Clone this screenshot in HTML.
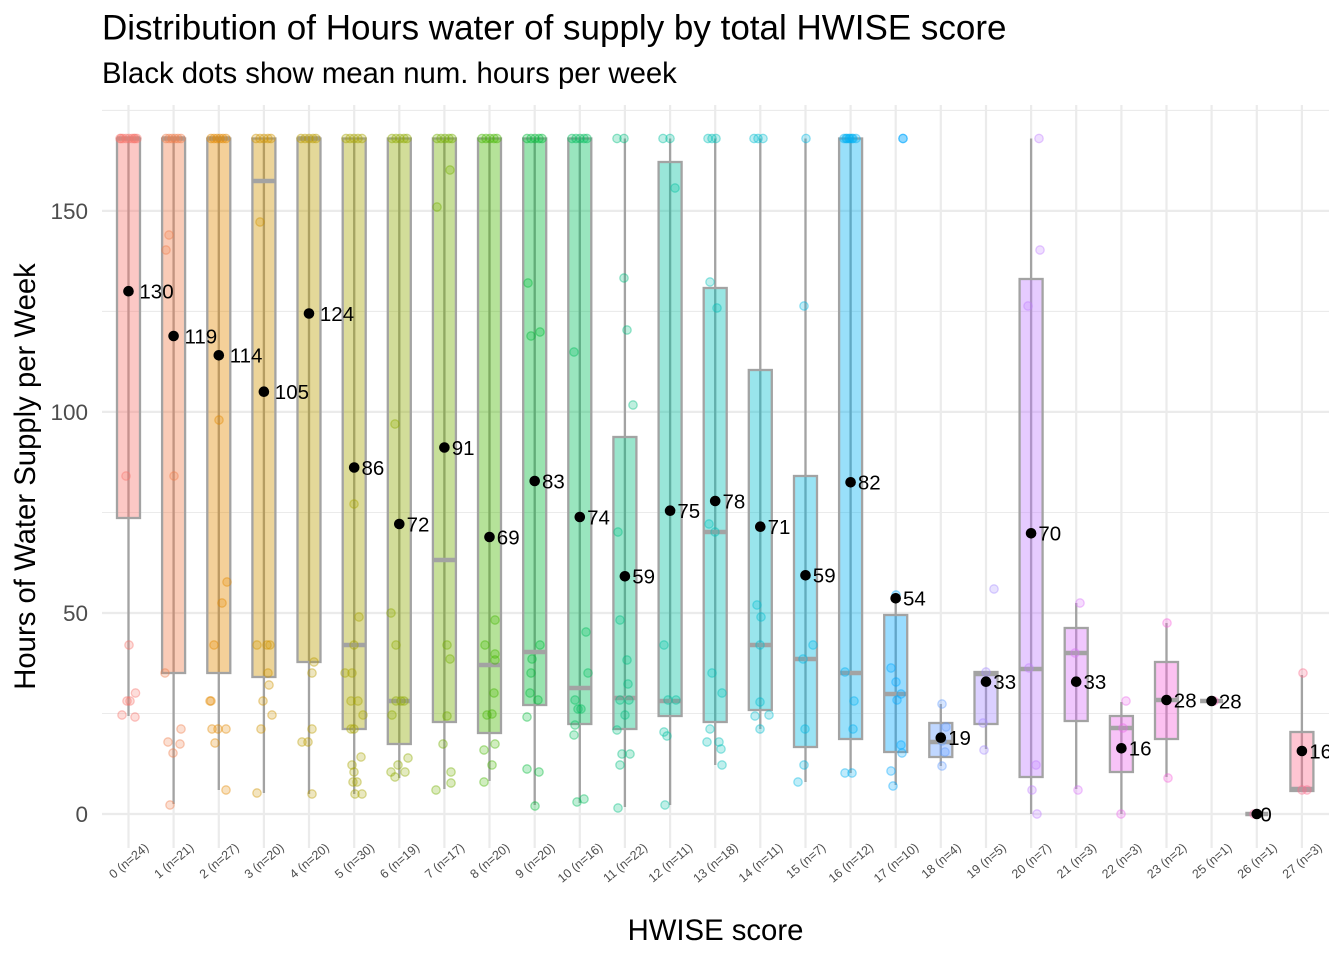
<!DOCTYPE html>
<html><head><meta charset="utf-8"><style>
html,body{margin:0;padding:0;background:#fff;}
svg{display:block;}
text{font-family:"Liberation Sans",Arial,sans-serif;}
circle.p{r:4.2px;}
</style></head><body>
<svg width="1344" height="960" viewBox="0 0 1344 960" xmlns="http://www.w3.org/2000/svg">
<defs><clipPath id="pc"><rect x="102" y="105" width="1227" height="743"/></clipPath></defs>
<rect width="1344" height="960" fill="#fff"/>
<text x="102" y="39.5" font-size="35" fill="#000">Distribution of Hours water of supply by total HWISE score</text>
<text x="102" y="83" font-size="29.3" fill="#000">Black dots show mean num. hours per week</text>
<g stroke="#EBEBEB" stroke-width="1.1">
<line x1="102" x2="1329" y1="713.5" y2="713.5"/><line x1="102" x2="1329" y1="512.5" y2="512.5"/><line x1="102" x2="1329" y1="311.4" y2="311.4"/><line x1="102" x2="1329" y1="110.4" y2="110.4"/>
</g>
<g stroke="#EBEBEB" stroke-width="2.2">
<line x1="102" x2="1329" y1="814" y2="814"/><line x1="102" x2="1329" y1="613" y2="613"/><line x1="102" x2="1329" y1="411.9" y2="411.9"/><line x1="102" x2="1329" y1="210.9" y2="210.9"/>
<line x1="128.5" x2="128.5" y1="105" y2="848"/><line x1="173.6" x2="173.6" y1="105" y2="848"/><line x1="218.8" x2="218.8" y1="105" y2="848"/><line x1="263.9" x2="263.9" y1="105" y2="848"/><line x1="309" x2="309" y1="105" y2="848"/><line x1="354.2" x2="354.2" y1="105" y2="848"/><line x1="399.3" x2="399.3" y1="105" y2="848"/><line x1="444.4" x2="444.4" y1="105" y2="848"/><line x1="489.5" x2="489.5" y1="105" y2="848"/><line x1="534.7" x2="534.7" y1="105" y2="848"/><line x1="579.8" x2="579.8" y1="105" y2="848"/><line x1="624.9" x2="624.9" y1="105" y2="848"/><line x1="670.1" x2="670.1" y1="105" y2="848"/><line x1="715.2" x2="715.2" y1="105" y2="848"/><line x1="760.3" x2="760.3" y1="105" y2="848"/><line x1="805.5" x2="805.5" y1="105" y2="848"/><line x1="850.6" x2="850.6" y1="105" y2="848"/><line x1="895.7" x2="895.7" y1="105" y2="848"/><line x1="940.8" x2="940.8" y1="105" y2="848"/><line x1="986" x2="986" y1="105" y2="848"/><line x1="1031.1" x2="1031.1" y1="105" y2="848"/><line x1="1076.2" x2="1076.2" y1="105" y2="848"/><line x1="1121.4" x2="1121.4" y1="105" y2="848"/><line x1="1166.5" x2="1166.5" y1="105" y2="848"/><line x1="1211.6" x2="1211.6" y1="105" y2="848"/><line x1="1256.8" x2="1256.8" y1="105" y2="848"/><line x1="1301.9" x2="1301.9" y1="105" y2="848"/>
</g>
<g clip-path="url(#pc)">
<g stroke="#A3A3A3" stroke-width="2.3">
<line x1="128.5" x2="128.5" y1="138.5" y2="716"/>
<line x1="173.6" x2="173.6" y1="138.5" y2="804"/>
<line x1="218.8" x2="218.8" y1="138.5" y2="790"/>
<line x1="263.9" x2="263.9" y1="138.5" y2="793"/>
<line x1="309" x2="309" y1="138.5" y2="794"/>
<line x1="354.2" x2="354.2" y1="138.5" y2="794"/>
<line x1="399.3" x2="399.3" y1="138.5" y2="778"/>
<line x1="444.4" x2="444.4" y1="138.5" y2="789"/>
<line x1="489.5" x2="489.5" y1="138.5" y2="781"/>
<line x1="534.7" x2="534.7" y1="138.5" y2="805"/>
<line x1="579.8" x2="579.8" y1="138.5" y2="803"/>
<line x1="624.9" x2="624.9" y1="138.5" y2="807"/>
<line x1="670.1" x2="670.1" y1="138.5" y2="805"/>
<line x1="715.2" x2="715.2" y1="138.5" y2="765"/>
<line x1="760.3" x2="760.3" y1="138.5" y2="729"/>
<line x1="805.5" x2="805.5" y1="138.5" y2="782"/>
<line x1="850.6" x2="850.6" y1="138.5" y2="773"/>
<line x1="895.7" x2="895.7" y1="600" y2="785"/>
<line x1="940.8" x2="940.8" y1="704" y2="766"/>
<line x1="986" x2="986" y1="672" y2="749"/>
<line x1="1031.1" x2="1031.1" y1="138.5" y2="814"/>
<line x1="1076.2" x2="1076.2" y1="603" y2="789"/>
<line x1="1121.4" x2="1121.4" y1="702" y2="814"/>
<line x1="1166.5" x2="1166.5" y1="623" y2="777"/>
<line x1="1301.9" x2="1301.9" y1="675" y2="791"/>
</g>
<g stroke="#A3A3A3" stroke-width="2.3" fill-opacity="0.4">
<rect x="117" y="138.5" width="23" height="379.5" fill="#F8766D"/>
<rect x="162.1" y="138.5" width="23" height="534.5" fill="#F07E4B"/>
<rect x="207.3" y="138.5" width="23" height="534.5" fill="#E38900"/>
<rect x="252.4" y="138.5" width="23" height="538.5" fill="#D09400"/>
<rect x="297.5" y="138.5" width="23" height="523.5" fill="#BC9D00"/>
<rect x="342.7" y="138.5" width="23" height="590.5" fill="#A8A400"/>
<rect x="387.8" y="138.5" width="23" height="605.5" fill="#8FAA00"/>
<rect x="432.9" y="138.5" width="23" height="583.5" fill="#72B000"/>
<rect x="478" y="138.5" width="23" height="594.5" fill="#45B600"/>
<rect x="523.2" y="138.5" width="23" height="566.5" fill="#00BA38"/>
<rect x="568.3" y="138.5" width="23" height="585.5" fill="#00BD5C"/>
<rect x="613.4" y="437" width="23" height="292" fill="#00BF80"/>
<rect x="658.6" y="162" width="23" height="554" fill="#00C0A0"/>
<rect x="703.7" y="288" width="23" height="434" fill="#00C0B8"/>
<rect x="748.8" y="370" width="23" height="340" fill="#00BDCF"/>
<rect x="794" y="476" width="23" height="271" fill="#00B8E3"/>
<rect x="839.1" y="138.5" width="23" height="600.5" fill="#00B1F3"/>
<rect x="884.2" y="615" width="23" height="137" fill="#00A7FF"/>
<rect x="929.3" y="723" width="23" height="34" fill="#619CFF"/>
<rect x="974.5" y="672" width="23" height="52" fill="#A58AFF"/>
<rect x="1019.6" y="279" width="23" height="498" fill="#C07EFF"/>
<rect x="1064.7" y="628" width="23" height="93" fill="#DA72FB"/>
<rect x="1109.9" y="716" width="23" height="56" fill="#EB68EC"/>
<rect x="1155" y="662" width="23" height="77" fill="#F763DB"/>
<rect x="1290.4" y="732" width="23" height="59" fill="#FC6E8E"/>
</g>
<g stroke="#A3A3A3" stroke-width="4.6">
<line x1="117" x2="140" y1="138.5" y2="138.5"/>
<line x1="162.1" x2="185.1" y1="138.5" y2="138.5"/>
<line x1="207.3" x2="230.3" y1="138.5" y2="138.5"/>
<line x1="252.4" x2="275.4" y1="181" y2="181"/>
<line x1="297.5" x2="320.5" y1="138.5" y2="138.5"/>
<line x1="342.7" x2="365.7" y1="645" y2="645"/>
<line x1="387.8" x2="410.8" y1="701" y2="701"/>
<line x1="432.9" x2="455.9" y1="560" y2="560"/>
<line x1="478" x2="501" y1="665" y2="665"/>
<line x1="523.2" x2="546.2" y1="652" y2="652"/>
<line x1="568.3" x2="591.3" y1="688" y2="688"/>
<line x1="613.4" x2="636.4" y1="698" y2="698"/>
<line x1="658.6" x2="681.6" y1="701" y2="701"/>
<line x1="703.7" x2="726.7" y1="532" y2="532"/>
<line x1="748.8" x2="771.8" y1="645" y2="645"/>
<line x1="794" x2="817" y1="659" y2="659"/>
<line x1="839.1" x2="862.1" y1="673" y2="673"/>
<line x1="884.2" x2="907.2" y1="694" y2="694"/>
<line x1="929.3" x2="952.3" y1="742" y2="742"/>
<line x1="974.5" x2="997.5" y1="674" y2="674"/>
<line x1="1019.6" x2="1042.6" y1="669" y2="669"/>
<line x1="1064.7" x2="1087.7" y1="653" y2="653"/>
<line x1="1109.9" x2="1132.9" y1="728" y2="728"/>
<line x1="1155" x2="1178" y1="700" y2="700"/>
<line x1="1200.1" x2="1223.1" y1="701" y2="701"/>
<line x1="1245.3" x2="1268.3" y1="814" y2="814"/>
<line x1="1290.4" x2="1313.4" y1="789" y2="789"/>
</g>
<g fill-opacity="0.25" stroke-opacity="0.4" stroke-width="1.3">
<g fill="#F8766D" stroke="#F8766D"><circle cx="120" cy="138.5" r="4.2"/><circle cx="123" cy="138.5" r="4.2"/><circle cx="126" cy="138.5" r="4.2"/><circle cx="129" cy="138.5" r="4.2"/><circle cx="132" cy="138.5" r="4.2"/><circle cx="135" cy="138.5" r="4.2"/><circle cx="137" cy="138.5" r="4.2"/><circle cx="121" cy="138.5" r="4.2"/><circle cx="134" cy="138.5" r="4.2"/><circle cx="126" cy="476" r="4.2"/><circle cx="129" cy="645" r="4.2"/><circle cx="135.5" cy="693" r="4.2"/><circle cx="130" cy="701" r="4.2"/><circle cx="127" cy="701" r="4.2"/><circle cx="122" cy="715" r="4.2"/><circle cx="135" cy="717" r="4.2"/></g>
<g fill="#F07E4B" stroke="#F07E4B"><circle cx="166" cy="138.5" r="4.2"/><circle cx="169" cy="138.5" r="4.2"/><circle cx="172" cy="138.5" r="4.2"/><circle cx="175" cy="138.5" r="4.2"/><circle cx="178" cy="138.5" r="4.2"/><circle cx="181" cy="138.5" r="4.2"/><circle cx="169" cy="235" r="4.2"/><circle cx="166" cy="250" r="4.2"/><circle cx="174" cy="476" r="4.2"/><circle cx="165" cy="673" r="4.2"/><circle cx="181" cy="729" r="4.2"/><circle cx="168" cy="742" r="4.2"/><circle cx="180" cy="744" r="4.2"/><circle cx="173" cy="753" r="4.2"/><circle cx="170" cy="805" r="4.2"/></g>
<g fill="#E38900" stroke="#E38900"><circle cx="211" cy="138.5" r="4.2"/><circle cx="214" cy="138.5" r="4.2"/><circle cx="217" cy="138.5" r="4.2"/><circle cx="220" cy="138.5" r="4.2"/><circle cx="223" cy="138.5" r="4.2"/><circle cx="226" cy="138.5" r="4.2"/><circle cx="219" cy="420" r="4.2"/><circle cx="227" cy="582" r="4.2"/><circle cx="222" cy="603" r="4.2"/><circle cx="214" cy="645" r="4.2"/><circle cx="211" cy="701" r="4.2"/><circle cx="210" cy="701" r="4.2"/><circle cx="212" cy="729" r="4.2"/><circle cx="218" cy="729" r="4.2"/><circle cx="226" cy="729" r="4.2"/><circle cx="215" cy="743" r="4.2"/><circle cx="226" cy="790" r="4.2"/></g>
<g fill="#D09400" stroke="#D09400"><circle cx="256" cy="138.5" r="4.2"/><circle cx="260" cy="138.5" r="4.2"/><circle cx="264" cy="138.5" r="4.2"/><circle cx="268" cy="138.5" r="4.2"/><circle cx="271" cy="138.5" r="4.2"/><circle cx="260" cy="222" r="4.2"/><circle cx="257" cy="645" r="4.2"/><circle cx="267" cy="645" r="4.2"/><circle cx="270" cy="645" r="4.2"/><circle cx="268" cy="673" r="4.2"/><circle cx="269" cy="685" r="4.2"/><circle cx="263" cy="701" r="4.2"/><circle cx="272" cy="715" r="4.2"/><circle cx="261" cy="729" r="4.2"/><circle cx="257" cy="793" r="4.2"/></g>
<g fill="#BC9D00" stroke="#BC9D00"><circle cx="301" cy="138.5" r="4.2"/><circle cx="305" cy="138.5" r="4.2"/><circle cx="309" cy="138.5" r="4.2"/><circle cx="313" cy="138.5" r="4.2"/><circle cx="316" cy="138.5" r="4.2"/><circle cx="314" cy="662" r="4.2"/><circle cx="312" cy="673" r="4.2"/><circle cx="312" cy="729" r="4.2"/><circle cx="302" cy="742" r="4.2"/><circle cx="308" cy="742" r="4.2"/><circle cx="312" cy="794" r="4.2"/></g>
<g fill="#A8A400" stroke="#A8A400"><circle cx="346" cy="138.5" r="4.2"/><circle cx="350" cy="138.5" r="4.2"/><circle cx="354" cy="138.5" r="4.2"/><circle cx="358" cy="138.5" r="4.2"/><circle cx="362" cy="138.5" r="4.2"/><circle cx="354" cy="504" r="4.2"/><circle cx="359" cy="617" r="4.2"/><circle cx="354" cy="645" r="4.2"/><circle cx="345" cy="673" r="4.2"/><circle cx="352" cy="673" r="4.2"/><circle cx="351" cy="701" r="4.2"/><circle cx="358" cy="701" r="4.2"/><circle cx="363" cy="715" r="4.2"/><circle cx="351" cy="729" r="4.2"/><circle cx="354" cy="729" r="4.2"/><circle cx="361" cy="757" r="4.2"/><circle cx="352" cy="765" r="4.2"/><circle cx="354" cy="772" r="4.2"/><circle cx="353" cy="782" r="4.2"/><circle cx="357" cy="782" r="4.2"/><circle cx="355" cy="794" r="4.2"/><circle cx="362" cy="794" r="4.2"/></g>
<g fill="#8FAA00" stroke="#8FAA00"><circle cx="392" cy="138.5" r="4.2"/><circle cx="396" cy="138.5" r="4.2"/><circle cx="400" cy="138.5" r="4.2"/><circle cx="404" cy="138.5" r="4.2"/><circle cx="407" cy="138.5" r="4.2"/><circle cx="395" cy="424" r="4.2"/><circle cx="391" cy="613" r="4.2"/><circle cx="396" cy="645" r="4.2"/><circle cx="396" cy="701" r="4.2"/><circle cx="401" cy="701" r="4.2"/><circle cx="404" cy="701" r="4.2"/><circle cx="392" cy="715" r="4.2"/><circle cx="408" cy="758" r="4.2"/><circle cx="398" cy="765" r="4.2"/><circle cx="391" cy="772" r="4.2"/><circle cx="405" cy="772" r="4.2"/><circle cx="395" cy="777" r="4.2"/></g>
<g fill="#72B000" stroke="#72B000"><circle cx="437" cy="138.5" r="4.2"/><circle cx="441" cy="138.5" r="4.2"/><circle cx="445" cy="138.5" r="4.2"/><circle cx="449" cy="138.5" r="4.2"/><circle cx="452" cy="138.5" r="4.2"/><circle cx="450" cy="170" r="4.2"/><circle cx="437" cy="207" r="4.2"/><circle cx="447" cy="645" r="4.2"/><circle cx="450" cy="659" r="4.2"/><circle cx="447" cy="716" r="4.2"/><circle cx="443" cy="744" r="4.2"/><circle cx="451" cy="772" r="4.2"/><circle cx="451" cy="783" r="4.2"/><circle cx="436" cy="790" r="4.2"/></g>
<g fill="#45B600" stroke="#45B600"><circle cx="482" cy="138.5" r="4.2"/><circle cx="486" cy="138.5" r="4.2"/><circle cx="490" cy="138.5" r="4.2"/><circle cx="494" cy="138.5" r="4.2"/><circle cx="497" cy="138.5" r="4.2"/><circle cx="495" cy="620" r="4.2"/><circle cx="485" cy="645" r="4.2"/><circle cx="495" cy="654" r="4.2"/><circle cx="495" cy="660" r="4.2"/><circle cx="494" cy="693" r="4.2"/><circle cx="492" cy="714" r="4.2"/><circle cx="487" cy="715" r="4.2"/><circle cx="495" cy="744" r="4.2"/><circle cx="484" cy="750" r="4.2"/><circle cx="492" cy="765" r="4.2"/><circle cx="484" cy="782" r="4.2"/></g>
<g fill="#00BA38" stroke="#00BA38"><circle cx="527" cy="138.5" r="4.2"/><circle cx="531" cy="138.5" r="4.2"/><circle cx="535" cy="138.5" r="4.2"/><circle cx="539" cy="138.5" r="4.2"/><circle cx="542" cy="138.5" r="4.2"/><circle cx="528" cy="283" r="4.2"/><circle cx="540" cy="332" r="4.2"/><circle cx="531" cy="336" r="4.2"/><circle cx="540" cy="645" r="4.2"/><circle cx="532" cy="659" r="4.2"/><circle cx="531" cy="673" r="4.2"/><circle cx="530" cy="693" r="4.2"/><circle cx="538" cy="700" r="4.2"/><circle cx="527" cy="717" r="4.2"/><circle cx="527" cy="769" r="4.2"/><circle cx="539" cy="772" r="4.2"/><circle cx="535" cy="806" r="4.2"/></g>
<g fill="#00BD5C" stroke="#00BD5C"><circle cx="572" cy="138.5" r="4.2"/><circle cx="576" cy="138.5" r="4.2"/><circle cx="580" cy="138.5" r="4.2"/><circle cx="584" cy="138.5" r="4.2"/><circle cx="587" cy="138.5" r="4.2"/><circle cx="574" cy="352" r="4.2"/><circle cx="586" cy="632" r="4.2"/><circle cx="588" cy="673" r="4.2"/><circle cx="575" cy="700" r="4.2"/><circle cx="578" cy="709" r="4.2"/><circle cx="581" cy="709" r="4.2"/><circle cx="575" cy="725" r="4.2"/><circle cx="574" cy="735" r="4.2"/><circle cx="584" cy="799" r="4.2"/><circle cx="577" cy="802" r="4.2"/></g>
<g fill="#00BF80" stroke="#00BF80"><circle cx="617" cy="138.5" r="4.2"/><circle cx="624" cy="138.5" r="4.2"/><circle cx="624" cy="278" r="4.2"/><circle cx="627" cy="330" r="4.2"/><circle cx="633" cy="405" r="4.2"/><circle cx="618" cy="532" r="4.2"/><circle cx="620" cy="620" r="4.2"/><circle cx="627" cy="660" r="4.2"/><circle cx="628" cy="684" r="4.2"/><circle cx="620" cy="700" r="4.2"/><circle cx="629" cy="700" r="4.2"/><circle cx="625" cy="715" r="4.2"/><circle cx="617" cy="730" r="4.2"/><circle cx="622" cy="754" r="4.2"/><circle cx="630" cy="754" r="4.2"/><circle cx="620" cy="765" r="4.2"/><circle cx="618" cy="808" r="4.2"/></g>
<g fill="#00C0A0" stroke="#00C0A0"><circle cx="663" cy="138.5" r="4.2"/><circle cx="670" cy="138.5" r="4.2"/><circle cx="675" cy="188" r="4.2"/><circle cx="664" cy="645" r="4.2"/><circle cx="668" cy="700" r="4.2"/><circle cx="676" cy="700" r="4.2"/><circle cx="664" cy="732" r="4.2"/><circle cx="667" cy="736" r="4.2"/><circle cx="665" cy="805" r="4.2"/></g>
<g fill="#00C0B8" stroke="#00C0B8"><circle cx="708" cy="138.5" r="4.2"/><circle cx="712" cy="138.5" r="4.2"/><circle cx="716" cy="138.5" r="4.2"/><circle cx="710" cy="282" r="4.2"/><circle cx="717" cy="308" r="4.2"/><circle cx="709" cy="524" r="4.2"/><circle cx="715" cy="532" r="4.2"/><circle cx="712" cy="673" r="4.2"/><circle cx="722" cy="693" r="4.2"/><circle cx="710" cy="729" r="4.2"/><circle cx="707" cy="742" r="4.2"/><circle cx="719" cy="742" r="4.2"/><circle cx="721" cy="749" r="4.2"/><circle cx="722" cy="765" r="4.2"/></g>
<g fill="#00BDCF" stroke="#00BDCF"><circle cx="754" cy="138.5" r="4.2"/><circle cx="758" cy="138.5" r="4.2"/><circle cx="763" cy="138.5" r="4.2"/><circle cx="757" cy="605" r="4.2"/><circle cx="761" cy="617" r="4.2"/><circle cx="760" cy="645" r="4.2"/><circle cx="760" cy="702" r="4.2"/><circle cx="769" cy="715" r="4.2"/><circle cx="755" cy="716" r="4.2"/><circle cx="760" cy="729" r="4.2"/></g>
<g fill="#00B8E3" stroke="#00B8E3"><circle cx="806" cy="138.5" r="4.2"/><circle cx="804" cy="306" r="4.2"/><circle cx="813" cy="645" r="4.2"/><circle cx="803" cy="659" r="4.2"/><circle cx="805" cy="729" r="4.2"/><circle cx="804" cy="765" r="4.2"/><circle cx="798" cy="782" r="4.2"/></g>
<g fill="#00B1F3" stroke="#00B1F3"><circle cx="844" cy="138.5" r="4.2"/><circle cx="847" cy="138.5" r="4.2"/><circle cx="850" cy="138.5" r="4.2"/><circle cx="853" cy="138.5" r="4.2"/><circle cx="856" cy="138.5" r="4.2"/><circle cx="846" cy="138.5" r="4.2"/><circle cx="849" cy="138.5" r="4.2"/><circle cx="852" cy="138.5" r="4.2"/><circle cx="845" cy="672" r="4.2"/><circle cx="854" cy="701" r="4.2"/><circle cx="853" cy="729" r="4.2"/><circle cx="845" cy="773" r="4.2"/><circle cx="852" cy="773" r="4.2"/></g>
<g fill="#00A7FF" stroke="#00A7FF"><circle cx="903" cy="138.5" r="4.2"/><circle cx="903" cy="138.5" r="4.2"/><circle cx="896" cy="595" r="4.2"/><circle cx="891" cy="668" r="4.2"/><circle cx="896" cy="682" r="4.2"/><circle cx="901" cy="694" r="4.2"/><circle cx="897" cy="700" r="4.2"/><circle cx="901" cy="745" r="4.2"/><circle cx="902" cy="753" r="4.2"/><circle cx="891" cy="771" r="4.2"/><circle cx="893" cy="786" r="4.2"/></g>
<g fill="#619CFF" stroke="#619CFF"><circle cx="942" cy="704" r="4.2"/><circle cx="946" cy="727" r="4.2"/><circle cx="942" cy="741" r="4.2"/><circle cx="945" cy="752" r="4.2"/><circle cx="942" cy="766" r="4.2"/></g>
<g fill="#A58AFF" stroke="#A58AFF"><circle cx="994" cy="589" r="4.2"/><circle cx="986" cy="672" r="4.2"/><circle cx="983" cy="723" r="4.2"/><circle cx="984" cy="750" r="4.2"/></g>
<g fill="#C07EFF" stroke="#C07EFF"><circle cx="1039" cy="138.5" r="4.2"/><circle cx="1040" cy="250" r="4.2"/><circle cx="1028" cy="306" r="4.2"/><circle cx="1029" cy="668" r="4.2"/><circle cx="1036" cy="765" r="4.2"/><circle cx="1032" cy="790" r="4.2"/><circle cx="1037" cy="814" r="4.2"/></g>
<g fill="#DA72FB" stroke="#DA72FB"><circle cx="1080" cy="603" r="4.2"/><circle cx="1075" cy="653" r="4.2"/><circle cx="1078" cy="790" r="4.2"/></g>
<g fill="#EB68EC" stroke="#EB68EC"><circle cx="1126" cy="701" r="4.2"/><circle cx="1123" cy="728" r="4.2"/><circle cx="1121" cy="814" r="4.2"/></g>
<g fill="#F763DB" stroke="#F763DB"><circle cx="1167" cy="623" r="4.2"/><circle cx="1168" cy="778" r="4.2"/></g>
<g fill="#FF62BC" stroke="#FF62BC"><circle cx="1214" cy="701" r="4.2"/></g>
<g fill="#FF66A8" stroke="#FF66A8"><circle cx="1254" cy="814" r="4.2"/></g>
<g fill="#FC6E8E" stroke="#FC6E8E"><circle cx="1303" cy="673" r="4.2"/><circle cx="1302" cy="790" r="4.2"/><circle cx="1307" cy="790" r="4.2"/></g>
</g>
<g fill="#000">
<circle cx="128.5" cy="291.2" r="5.3"/><circle cx="173.6" cy="336" r="5.3"/><circle cx="218.8" cy="355.3" r="5.3"/><circle cx="263.9" cy="391.7" r="5.3"/><circle cx="309" cy="313.5" r="5.3"/><circle cx="354.2" cy="467.5" r="5.3"/><circle cx="399.3" cy="524" r="5.3"/><circle cx="444.4" cy="447.5" r="5.3"/><circle cx="489.5" cy="537" r="5.3"/><circle cx="534.7" cy="481" r="5.3"/><circle cx="579.8" cy="517" r="5.3"/><circle cx="624.9" cy="576.3" r="5.3"/><circle cx="670.1" cy="510.7" r="5.3"/><circle cx="715.2" cy="501" r="5.3"/><circle cx="760.3" cy="526.7" r="5.3"/><circle cx="805.5" cy="575.3" r="5.3"/><circle cx="850.6" cy="482.3" r="5.3"/><circle cx="895.7" cy="598.3" r="5.3"/><circle cx="940.8" cy="737.7" r="5.3"/><circle cx="986" cy="681.7" r="5.3"/><circle cx="1031.1" cy="533.3" r="5.3"/><circle cx="1076.2" cy="681.7" r="5.3"/><circle cx="1121.4" cy="748.3" r="5.3"/><circle cx="1166.5" cy="700" r="5.3"/><circle cx="1211.6" cy="701" r="5.3"/><circle cx="1256.8" cy="814" r="5.3"/><circle cx="1301.9" cy="751" r="5.3"/>
</g>
<g font-size="20.5" fill="#000">
<text x="139.4" y="298.6">130</text><text x="184.5" y="343.3">119</text><text x="229.7" y="362.6">114</text><text x="274.8" y="399">105</text><text x="319.9" y="320.8">124</text><text x="361.5" y="474.8">86</text><text x="406.6" y="531.3">72</text><text x="451.7" y="454.8">91</text><text x="496.8" y="544.3">69</text><text x="542" y="488.3">83</text><text x="587.1" y="524.3">74</text><text x="632.2" y="583.6">59</text><text x="677.4" y="518">75</text><text x="722.5" y="508.3">78</text><text x="767.6" y="534">71</text><text x="812.8" y="582.6">59</text><text x="857.9" y="489.6">82</text><text x="903" y="605.6">54</text><text x="948.1" y="745">19</text><text x="993.3" y="689">33</text><text x="1038.4" y="540.6">70</text><text x="1083.5" y="689">33</text><text x="1128.7" y="755.6">16</text><text x="1173.8" y="707.3">28</text><text x="1218.9" y="708.3">28</text><text x="1260.4" y="821.3">0</text><text x="1309.2" y="758.3">16</text>
</g>
</g>
<g font-size="22.5" fill="#4D4D4D" text-anchor="end">
<text x="88" y="822">0</text><text x="88" y="621">50</text><text x="88" y="420">100</text><text x="88" y="219">150</text>
</g>
<g font-size="12.5" fill="#4D4D4D" text-anchor="middle">
<text transform="translate(131.5,864) rotate(-40)">0 (n=24)</text>
<text transform="translate(176.6,864) rotate(-40)">1 (n=21)</text>
<text transform="translate(221.8,864) rotate(-40)">2 (n=27)</text>
<text transform="translate(266.9,864) rotate(-40)">3 (n=20)</text>
<text transform="translate(312,864) rotate(-40)">4 (n=20)</text>
<text transform="translate(357.2,864) rotate(-40)">5 (n=30)</text>
<text transform="translate(402.3,864) rotate(-40)">6 (n=19)</text>
<text transform="translate(447.4,864) rotate(-40)">7 (n=17)</text>
<text transform="translate(492.5,864) rotate(-40)">8 (n=20)</text>
<text transform="translate(537.7,864) rotate(-40)">9 (n=20)</text>
<text transform="translate(582.8,866) rotate(-40)">10 (n=16)</text>
<text transform="translate(627.9,866) rotate(-40)">11 (n=22)</text>
<text transform="translate(673.1,866) rotate(-40)">12 (n=11)</text>
<text transform="translate(718.2,866) rotate(-40)">13 (n=18)</text>
<text transform="translate(763.3,866) rotate(-40)">14 (n=11)</text>
<text transform="translate(808.5,864) rotate(-40)">15 (n=7)</text>
<text transform="translate(853.6,866) rotate(-40)">16 (n=12)</text>
<text transform="translate(898.7,866) rotate(-40)">17 (n=10)</text>
<text transform="translate(943.8,864) rotate(-40)">18 (n=4)</text>
<text transform="translate(989,864) rotate(-40)">19 (n=5)</text>
<text transform="translate(1034.1,864) rotate(-40)">20 (n=7)</text>
<text transform="translate(1079.2,864) rotate(-40)">21 (n=3)</text>
<text transform="translate(1124.4,864) rotate(-40)">22 (n=3)</text>
<text transform="translate(1169.5,864) rotate(-40)">23 (n=2)</text>
<text transform="translate(1214.6,864) rotate(-40)">25 (n=1)</text>
<text transform="translate(1259.8,864) rotate(-40)">26 (n=1)</text>
<text transform="translate(1304.9,864) rotate(-40)">27 (n=3)</text>
</g>
<text x="715.5" y="940" font-size="29.3" fill="#000" text-anchor="middle">HWISE score</text>
<text transform="translate(35,476.5) rotate(-90)" font-size="29.3" fill="#000" text-anchor="middle">Hours of Water Supply per Week</text>
</svg>
</body></html>
